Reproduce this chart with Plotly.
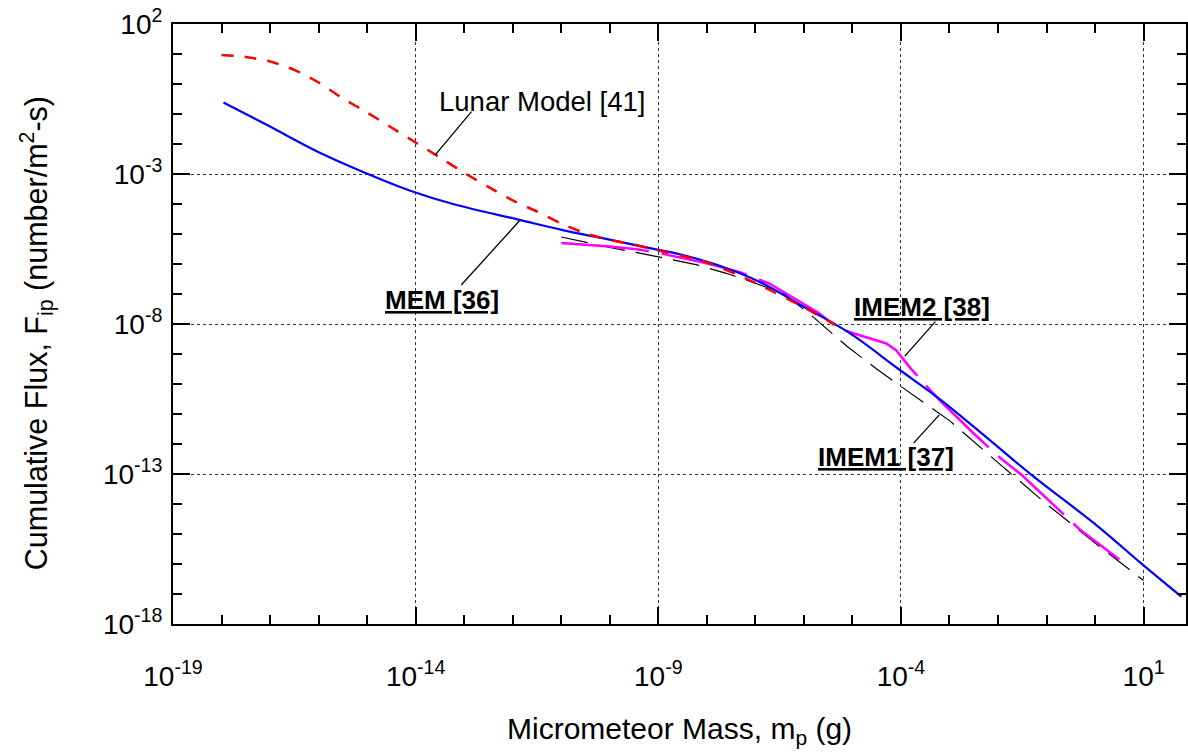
import numpy as np
import plotly.graph_objects as go

# ---- data (log10 of mass in g, log10 of cumulative flux) ----
mem_logm = [-17.96, -17.06, -16.04, -15.01, -14.05, -13.23, -11.86, -10.97, -10.15, -9.05, -8.5,
            -7.68, -6.92, -6.03, -5.07, -4.05, -3.22, -2.2, -1.31, 0.07, 0.95, 1.78]
mem_logf = [-0.62, -1.37, -2.24, -2.98, -3.59, -4.0, -4.53, -4.87, -5.14, -5.51, -5.7,
            -6.09, -6.59, -7.4, -8.29, -9.5, -10.48, -11.83, -13.03, -14.76, -15.98, -17.09]

lunar_logm = [-18, -17.5, -17, -16.5, -16, -15.5, -15, -14.5, -14, -13.5, -13, -12.5, -12, -11.5,
              -11, -10.5, -10, -9.5, -9, -8, -7, -6, -5.35]
lunar_logf = [0.97, 0.9, 0.75, 0.47, 0.05, -0.48, -0.95, -1.45, -1.95, -2.45, -2.96, -3.43, -3.88,
              -4.25, -4.65, -4.98, -5.2, -5.35, -5.55, -5.95, -6.63, -7.45, -8.03]

imem2_logm = [-11, -10, -9.4, -9, -8, -7.3, -6.7, -6.2, -5.7, -5.3, -5.0, -4.3, -4.1, -3.8, -3.2,
              -2.5, -2.0, -1.5, -0.3, 0.5]
imem2_logf = [-5.3, -5.42, -5.52, -5.63, -5.98, -6.28, -6.66, -7.15, -7.63, -8.13, -8.3, -8.65,
              -8.87, -9.48, -10.55, -11.65, -12.4, -13.05, -14.87, -15.85]

imem1_logm = [-11, -10, -9, -8.2, -7.6, -7, -6.4, -5.8, -5.1, -4.5, -4, -3, -2, -1, 0, 1]
imem1_logf = [-5.1, -5.45, -5.76, -6.03, -6.31, -6.64, -7.0, -7.78, -8.76, -9.5, -10.08, -11.22,
              -12.62, -14.0, -15.3, -16.55]

# leader lines for labels: (log10 m start, log10 F start, log10 m end, log10 F end)
leader_lunar = [-12.85, -0.92, -13.60, -2.37]
leader_mem = [-13.06, -6.7, -11.86, -4.56]
leader_imem2 = [-3.29, -7.92, -3.92, -9.07]
leader_imem1 = [-3.74, -11.97, -3.21, -11.03]

label_texts = ["Lunar Model [41]", "<b><u>MEM [36]</u></b>", "<b><u>IMEM2 [38]</u></b>",
               "<b><u>IMEM1 [37]</u></b>"]
label_logm = [-11.405, -13.46, -3.56, -4.30]
label_logf = [-0.567, -7.2, -7.43, -12.43]
label_sizes = [27.5, 26, 26, 26]

x_major_exp = [-19, -14, -9, -4, 1]
y_major_exp = [2, -3, -8, -13, -18]
x_minor_exp = list(range(-19, 2))
y_minor_exp = list(range(-18, 3))

FONT = "Liberation Sans, Arial, sans-serif"


def pw(v):
    return list(10.0 ** np.array(v, dtype=float))


fig = go.Figure()

fig.add_trace(go.Scatter(x=pw(imem1_logm), y=pw(imem1_logf), mode="lines", name="IMEM1 [37]",
                         line=dict(color="black", width=1.2, dash="27px,11px")))
fig.add_trace(go.Scatter(x=pw(imem2_logm), y=pw(imem2_logf), mode="lines", name="IMEM2 [38]",
                         line=dict(color="#ff00ff", width=2.5, dash="88px,13px")))
fig.add_trace(go.Scatter(x=pw(mem_logm), y=pw(mem_logf), mode="lines", name="MEM [36]",
                         line=dict(color="#0000ff", width=2.2, shape="spline", smoothing=1.0)))
fig.add_trace(go.Scatter(x=pw(lunar_logm), y=pw(lunar_logf), mode="lines", name="Lunar Model [41]",
                         line=dict(color="#ff0000", width=2.5, dash="12px,11px", shape="spline",
                                   smoothing=0.8)))

for ld in (leader_lunar, leader_mem, leader_imem2, leader_imem1):
    fig.add_trace(go.Scatter(x=pw([ld[0], ld[2]]), y=pw([ld[1], ld[3]]), mode="lines",
                             line=dict(color="black", width=1.3), hoverinfo="skip",
                             showlegend=False))

axis_common = dict(
    type="log", showline=True, linecolor="black", linewidth=2, mirror="allticks",
    ticks="inside", ticklen=17, tickwidth=1.5, tickcolor="black",
    showgrid=True, gridcolor="#333333", gridwidth=1, griddash="3px,3px",
    zeroline=False, tickfont=dict(family=FONT, size=28, color="black"),
)

fig.update_xaxes(
    **axis_common,
    range=[-19, 1.874],
    tickmode="array",
    tickvals=pw(x_major_exp),
    ticktext=[f"10<sup>{e}</sup>" for e in x_major_exp],
    minor=dict(tickmode="array", tickvals=pw(x_minor_exp), ticklen=9, tickwidth=1.5,
               tickcolor="black", showgrid=False, ticks="inside"),
    ticklabelstandoff=26,
)
fig.update_yaxes(
    **axis_common,
    range=[-18, 2],
    tickmode="array",
    tickvals=pw(y_major_exp),
    ticktext=[f"10<sup>{e}</sup>" for e in y_major_exp],
    minor=dict(tickmode="array", tickvals=pw(y_minor_exp), ticklen=9, tickwidth=1.5,
               tickcolor="black", showgrid=False, ticks="inside"),
    ticklabelstandoff=3,
)

for txt, lx, ly, fs in zip(label_texts, label_logm, label_logf, label_sizes):
    fig.add_annotation(x=lx, y=ly, xref="x", yref="y", text=txt, showarrow=False,
                       font=dict(family=FONT, size=fs, color="black"),
                       xanchor="center", yanchor="middle")

# axis titles
fig.add_annotation(x=0.5, y=-0.177, xref="paper", yref="paper",
                   text="Micrometeor Mass, m<sub>p</sub> (g)", showarrow=False,
                   font=dict(family=FONT, size=30, color="black"),
                   xanchor="center", yanchor="middle")
fig.add_annotation(x=-0.135, y=0.485, xref="paper", yref="paper", textangle=-90,
                   text="Cumulative Flux, F<sub>ip</sub> (number/m<sup>2</sup>-s)", showarrow=False,
                   font=dict(family=FONT, size=30.5, color="black"),
                   xanchor="center", yanchor="middle")

fig.update_layout(
    width=1188, height=754,
    margin=dict(l=172.5, r=0, t=24, b=130),
    paper_bgcolor="white", plot_bgcolor="white",
    showlegend=False,
    font=dict(family=FONT, color="black"),
)

fig.write_html("out.html")
